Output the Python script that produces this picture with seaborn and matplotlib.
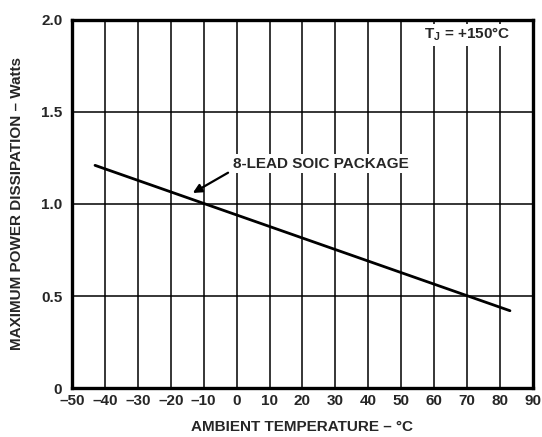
import matplotlib
matplotlib.use("Agg")
import matplotlib.pyplot as plt
import seaborn as sns
import pandas as pd

# Data
temperature = [-43, 83]
power = [1.21, 0.42]
x_ticks = [-50, -40, -30, -20, -10, 0, 10, 20, 30, 40, 50, 60, 70, 80, 90]
x_tick_labels = ["–50", "–40", "–30", "–20", "–10", "0", "10", "20", "30", "40", "50", "60", "70", "80", "90"]
y_ticks = [0, 0.5, 1.0, 1.5, 2.0]
y_tick_labels = ["0", "0.5", "1.0", "1.5", "2.0"]

sns.set_style("white")
plt.rcParams['font.family'] = ['Liberation Sans', 'DejaVu Sans']
plt.rcParams['font.weight'] = 'bold'
plt.rcParams['mathtext.fontset'] = 'custom'
plt.rcParams['mathtext.rm'] = 'Liberation Sans:bold'
plt.rcParams['mathtext.it'] = 'Liberation Sans:bold'
plt.rcParams['mathtext.bf'] = 'Liberation Sans:bold'

df = pd.DataFrame({"T": temperature, "P": power})

fig = plt.figure(figsize=(5.42, 4.37), dpi=100)
ax = fig.add_axes([0.1328, 0.1121, 0.8506, 0.8422])

ax.set_xlim(-50, 90)
ax.set_ylim(0, 2.0)
ax.set_xticks(x_ticks)
ax.set_xticklabels(x_tick_labels)
ax.set_yticks(y_ticks)
ax.set_yticklabels(y_tick_labels)
ax.grid(True, color='black', linewidth=1.1)
ax.set_axisbelow(True)
ax.tick_params(axis='y', length=0, pad=7, labelsize=11)
ax.tick_params(axis='x', length=0, pad=4, labelsize=11)
for lab in ax.get_xticklabels() + ax.get_yticklabels():
    lab.set_fontweight('bold')
for s in ax.spines.values():
    s.set_visible(True)
    s.set_color('black')
    s.set_linewidth(2.4)

sns.lineplot(data=df, x="T", y="P", ax=ax, color='black', linewidth=2.0)

ax.set_xlabel("AMBIENT TEMPERATURE – °C", fontsize=11, fontweight='bold', labelpad=9)
ax.set_ylabel("MAXIMUM POWER DISSIPATION – Watts", fontsize=11, fontweight='bold', labelpad=12)

ax.annotate("", xy=(-13.3, 1.06), xytext=(-2.6, 1.17),
            arrowprops=dict(arrowstyle='-|>', color='black', lw=1.6, mutation_scale=13,
                            shrinkA=0, shrinkB=0))
ax.text(-1, 1.22, "8-LEAD SOIC PACKAGE", fontsize=11, fontweight='bold', va='center', ha='left',
        bbox=dict(facecolor='white', edgecolor='none', pad=1.5))

ax.text(57, 1.92, r"T$_{\mathrm{J}}$ = +150°C", fontsize=11, fontweight='bold',
        va='center', ha='left', bbox=dict(facecolor='white', edgecolor='none', pad=1.5))

fig.savefig("out.png", dpi=100)
